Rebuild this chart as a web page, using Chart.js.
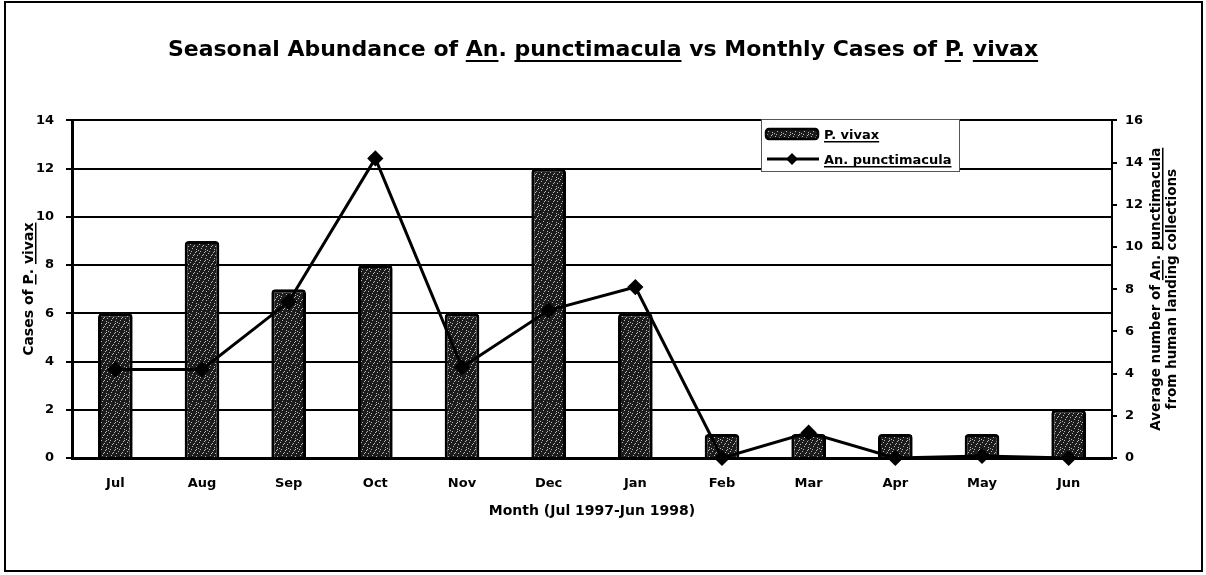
<!DOCTYPE html>
<html>
<head>
<title>Seasonal Abundance of An. punctimacula vs Monthly Cases of P. vivax</title>
<script src="https://cdn.jsdelivr.net/npm/chart.js@4.4.0/dist/chart.umd.min.js"></script>
<style>
body { margin:0; background:#fff; }
#wrap { width:1206px; height:575px; }
</style>
</head>
<body>
<div id="wrap"><canvas id="chartVivax" width="1206" height="575"></canvas></div>
<script>
// data
const months = ['Jul','Aug','Sep','Oct','Nov','Dec','Jan','Feb','Mar','Apr','May','Jun'];
const vivaxCases = [6, 9, 7, 8, 6, 12, 6, 1, 1, 1, 1, 2];
const punctimacula = [4.2, 4.2, 7.4, 14.2, 4.3, 7.0, 8.1, 0, 1.2, 0, 0.1, 0];
const seriesNames = ['P. vivax', 'An. punctimacula'];

const FONT = "'DejaVu Sans', sans-serif";
const ctx = document.getElementById('chartVivax').getContext('2d');

// stippled dark fill like the photocopied bars
function speckle() {
  let c = document.createElement('canvas');
  c.width = 9; c.height = 9;
  let g = c.getContext('2d');
  g.fillStyle = '#1c1c1c';
  g.fillRect(0, 0, 9, 9);
  g.fillStyle = '#b8b8b8';
  [[1,1],[5,2],[3,5],[7,6],[0,7],[6,0],[8,3],[2,8],[4,3],[7,8]].forEach(function(p) {
    g.fillRect(p[0], p[1], 1, 1);
  });
  return ctx.createPattern(c, 'repeat');
}
const stipple = speckle();

// writes text made of [string, underlined] parts, left aligned, alphabetic baseline
function partsText(c, parts, x, y) {
  let pos = x;
  parts.forEach(function(p) {
    let w = c.measureText(p[0]).width;
    c.fillText(p[0], pos, y);
    if (p[1]) c.fillRect(pos, y + 2, w, 1.5);
    pos += w;
  });
}
function partsWidth(c, parts) {
  return parts.reduce(function(s, p) { return s + c.measureText(p[0]).width; }, 0);
}

const decor = {
  id: 'decor',
  afterDraw(chart) {
    const c = chart.ctx, a = chart.chartArea;
    c.save();
    c.fillStyle = '#000';
    c.strokeStyle = '#000';

    // outer frame
    c.lineWidth = 2;
    c.strokeRect(5, 2, 1197, 569);

    // underline words of the title
    c.font = 'bold 22px ' + FONT;
    const titleText = chart.options.plugins.title.text;
    const tw = c.measureText(titleText).width;
    const tb = chart.titleBlock;
    const tx0 = (tb.left + tb.right) / 2 - tw / 2;
    const ty = 50 + 10;
    [['An', 0], ['punctimacula', 0], ['P', titleText.lastIndexOf('P.')], ['vivax', 0]].forEach(function(u) {
      let i = u[1] || titleText.indexOf(u[0]);
      let x = tx0 + c.measureText(titleText.slice(0, i)).width;
      c.fillRect(x, ty, c.measureText(u[0]).width, 2);
    });

    // left axis title
    c.font = 'bold 14px ' + FONT;
    c.textBaseline = 'alphabetic';
    let leftParts = [['Cases of ', 0], ['P', 1], ['. ', 0], ['vivax', 1]];
    c.save();
    c.translate(33, (a.top + a.bottom) / 2);
    c.rotate(-Math.PI / 2);
    partsText(c, leftParts, -partsWidth(c, leftParts) / 2, 0);
    c.restore();

    // right axis title, two lines
    c.font = 'bold 13.5px ' + FONT;
    let r1 = [['Average number of ', 0], ['An', 1], ['. ', 0], ['punctimacula', 1]];
    let r2 = [['from human landing collections', 0]];
    [[r1, 1160], [r2, 1176]].forEach(function(l) {
      c.save();
      c.translate(l[1], (a.top + a.bottom) / 2);
      c.rotate(-Math.PI / 2);
      partsText(c, l[0], -partsWidth(c, l[0]) / 2, 0);
      c.restore();
    });

    // legend box
    c.fillStyle = '#fff';
    c.fillRect(761, 119, 199, 53);
    c.lineWidth = 1;
    c.strokeStyle = '#555';
    c.strokeRect(761.5, 119.5, 198, 52);
    c.strokeStyle = '#000';
    c.fillStyle = stipple;
    c.lineWidth = 2.5;
    c.beginPath();
    c.roundRect(766, 129, 52, 10, 3);
    c.fill();
    c.stroke();
    c.lineWidth = 3;
    c.beginPath();
    c.moveTo(767, 159);
    c.lineTo(819, 159);
    c.stroke();
    c.fillStyle = '#000';
    c.beginPath();
    c.moveTo(792, 153); c.lineTo(798, 159); c.lineTo(792, 165); c.lineTo(786, 159);
    c.closePath();
    c.fill();
    c.font = 'bold 13px ' + FONT;
    partsText(c, [[chart.data.datasets[1].label, 1]], 824, 139);
    partsText(c, [[chart.data.datasets[0].label, 1]], 824, 164);

    c.restore();
  }
};

new Chart(ctx, {
  type: 'bar',
  data: {
    labels: months,
    datasets: [{
      type: 'line',
      label: seriesNames[1],
      data: punctimacula,
      yAxisID: 'y1',
      borderColor: '#000',
      borderWidth: 3,
      backgroundColor: '#000',
      pointStyle: 'rectRot',
      pointRadius: 6,
      pointBackgroundColor: '#000',
      pointBorderColor: '#000',
      tension: 0,
      clip: false,
      order: 0
    }, {
      label: seriesNames[0],
      data: vivaxCases,
      yAxisID: 'y',
      backgroundColor: stipple,
      borderColor: '#000',
      borderWidth: 3,
      borderRadius: 4,
      barPercentage: 0.4,
      categoryPercentage: 1,
      order: 1
    }]
  },
  options: {
    responsive: false,
    animation: false,
    layout: { padding: 0 },
    plugins: {
      legend: { display: false },
      tooltip: { enabled: false },
      title: {
        display: true,
        text: 'Seasonal Abundance of An. punctimacula vs Monthly Cases of P. vivax',
        color: '#000',
        font: { family: FONT, size: 22, weight: 'bold' },
        padding: { top: 37, bottom: 57 }
      }
    },
    scales: {
      x: {
        grid: { display: true, drawOnChartArea: false, drawTicks: false },
        border: { display: true, color: '#000', width: 3 },
        ticks: { color: '#000', padding: 18, font: { family: FONT, size: 13, weight: 'bold' } },
        title: {
          display: true,
          text: 'Month (Jul 1997-Jun 1998)',
          color: '#000',
          font: { family: FONT, size: 14, weight: 'bold' },
          padding: { top: 0, bottom: 55 }
        },
        afterFit: function(s) { s.height = 117; }
      },
      y: {
        position: 'left',
        min: 0,
        max: 14,
        ticks: { stepSize: 2, color: '#000', padding: 12, font: { family: FONT, size: 13, weight: 'bold' } },
        grid: { color: '#000', lineWidth: 2, tickLength: 6 },
        border: { display: true, color: '#000', width: 3 },
        afterFit: function(s) { s.width = 72; }
      },
      y1: {
        position: 'right',
        min: 0,
        max: 16,
        ticks: { stepSize: 2, color: '#000', padding: 8, font: { family: FONT, size: 13, weight: 'bold' } },
        grid: { drawOnChartArea: false, color: '#000', lineWidth: 2, tickLength: 5 },
        border: { display: true, color: '#000', width: 2 },
        afterFit: function(s) { s.width = 94; }
      }
    }
  },
  plugins: [decor]
});
</script>
</body>
</html>
